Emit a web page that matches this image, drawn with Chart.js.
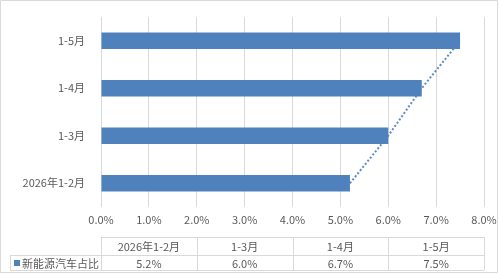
<!DOCTYPE html>
<html>
<head>
<meta charset="utf-8">
<script src="https://cdn.jsdelivr.net/npm/chart.js@4"></script>
<style>
    body { margin: 0; background: #fff; }
    #wrap { width: 500px; height: 275px; position: relative; }
</style>
</head>
<body>
<div id="wrap"><canvas id="shareChart" width="500" height="275"></canvas></div>
<script>
const categories = ['2026年1-2月', '1-3月', '1-4月', '1-5月'];
const shareValues = [5.2, 6.0, 6.7, 7.5];
const tickLabels = ['0.0%', '1.0%', '2.0%', '3.0%', '4.0%', '5.0%', '6.0%', '7.0%', '8.0%'];
const seriesName = '新能源汽车占比';

const BAR_BLUE = '#4f81bd';
const GRID = '#d9d9d9';
const TEXT = '#595959';
const FONT = '"Noto Sans CJK SC", "Noto Sans", sans-serif';

// border round the whole chart + data table under the x axis
const tablePlugin = {
    id: 'dataTable',
    afterDraw(chart) {
        const ctx = chart.ctx;
        const area = chart.chartArea;
        const left = area.left, right = area.right;
        const colW = (right - left) / categories.length;
        const top = 237, mid = 255, bottom = 270, legendLeft = 10;

        ctx.save();
        ctx.strokeStyle = GRID;
        ctx.lineWidth = 1;

        ctx.beginPath();
        ctx.rect(0.5, 0.5, 497, 272);
        ctx.stroke();

        ctx.beginPath();
        ctx.moveTo(left, top + 0.5); ctx.lineTo(right, top + 0.5);
        ctx.moveTo(legendLeft, mid + 0.5); ctx.lineTo(right, mid + 0.5);
        ctx.moveTo(legendLeft, bottom + 0.5); ctx.lineTo(right, bottom + 0.5);
        ctx.moveTo(legendLeft + 0.5, mid); ctx.lineTo(legendLeft + 0.5, bottom);
        for (let i = 0; i <= categories.length; i++) {
            const x = Math.round(left + i * colW) + 0.5;
            ctx.moveTo(x, top); ctx.lineTo(x, bottom);
        }
        ctx.stroke();

        ctx.fillStyle = TEXT;
        ctx.font = '11px ' + FONT;
        ctx.textAlign = 'center';
        ctx.textBaseline = 'middle';
        categories.forEach((c, i) => {
            const cx = left + (i + 0.5) * colW;
            ctx.fillText(c, cx, (top + mid) / 2 + 1);
            ctx.fillText(shareValues[i].toFixed(1) + '%', cx, (mid + bottom) / 2 + 1);
        });

        ctx.fillStyle = BAR_BLUE;
        ctx.fillRect(14, 260, 6, 6);
        ctx.fillStyle = TEXT;
        ctx.font = '11px ' + FONT;
        ctx.textAlign = 'left';
        ctx.fillText(seriesName, 22, (mid + bottom) / 2 + 1);
        ctx.restore();
    }
};

new Chart(document.getElementById('shareChart'), {
    type: 'bar',
    data: {
        labels: categories,
        datasets: [{
            type: 'bar',
            label: seriesName,
            data: shareValues,
            backgroundColor: BAR_BLUE,
            categoryPercentage: 1,
            barPercentage: 0.35,
            order: 1
        }, {
            type: 'line',
            label: 'series line',
            data: shareValues,
            indexAxis: 'y',
            borderColor: '#5b8cc8',
            borderWidth: 2,
            borderDash: [2, 2],
            pointRadius: 0,
            fill: false,
            order: 2
        }]
    },
    options: {
        indexAxis: 'y',
        responsive: false,
        animation: false,
        layout: { padding: { top: 17, right: 16, left: 0, bottom: 0 } },
        plugins: {
            legend: { display: false },
            tooltip: { enabled: false }
        },
        scales: {
            x: {
                min: 0,
                max: 8,
                ticks: {
                    stepSize: 1,
                    color: TEXT,
                    font: { family: FONT, size: 11 },
                    padding: 6,
                    callback: (v, i) => tickLabels[i]
                },
                grid: { color: GRID, drawTicks: false },
                border: { display: false },
                afterFit(scale) {
                    scale.height = 68;
                    scale.paddingLeft = 0;
                    scale.paddingRight = 0;
                }
            },
            y: {
                reverse: true,
                ticks: {
                    color: TEXT,
                    font: { family: FONT, size: 11 },
                    padding: 8
                },
                grid: { display: false },
                border: { display: false },
                afterFit(scale) { scale.width = 101; }
            }
        }
    },
    plugins: [tablePlugin]
});
</script>
</body>
</html>
